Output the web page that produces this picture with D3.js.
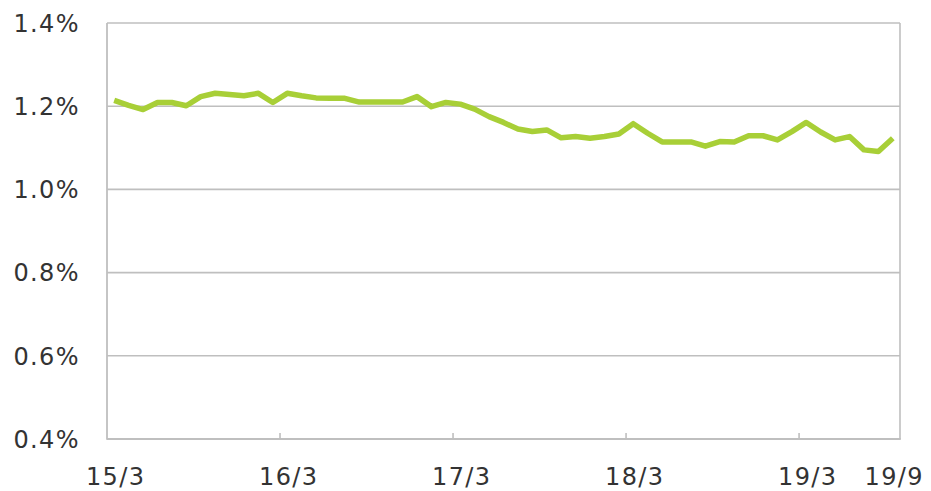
<!DOCTYPE html>
<html>
<head>
<meta charset="utf-8">
<script src="https://cdn.jsdelivr.net/npm/d3@7"></script>
<style>
  html, body { margin: 0; padding: 0; background: #fff; }
  svg { display: block; }
  text { font-family: "DejaVu Sans", Verdana, sans-serif; fill: #333; }
</style>
</head>
<body>
<svg id="chart" width="931" height="491"></svg>
<script>
const months = (() => {
  const out = [];
  for (let yy = 15; yy <= 19; yy++) {
    for (let m = 1; m <= 12; m++) {
      if (yy === 15 && m < 3) continue;
      if (yy === 19 && m > 9) continue;
      out.push(yy + "/" + m);
    }
  }
  return out;
})();

const values = [
  1.214, 1.202, 1.192, 1.209, 1.209, 1.201, 1.223, 1.231, 1.228, 1.225, 1.231, 1.209,
  1.231, 1.225, 1.220, 1.219, 1.219, 1.210, 1.210, 1.210, 1.210, 1.223, 1.199, 1.209,
  1.205, 1.193, 1.175, 1.161, 1.145, 1.139, 1.143, 1.124, 1.127, 1.123, 1.127, 1.133,
  1.158, 1.135, 1.114, 1.114, 1.114, 1.104, 1.115, 1.114, 1.129, 1.129, 1.119, 1.139,
  1.161, 1.138, 1.119, 1.127, 1.095, 1.091, 1.123
];

const yTicks = [0.4, 0.6, 0.8, 1.0, 1.2, 1.4];
const xLabels = ["15/3", "16/3", "17/3", "18/3", "19/3", "19/9"];
const xTickMarks = ["16/3", "17/3", "18/3", "19/3"];

const mLeft = 107, mRight = 900, mTop = 23, mBottom = 439;
const svg = d3.select("#chart");

const x = d3.scaleBand().domain(months).range([mLeft, mRight]).padding(0);
const y = d3.scaleLinear().domain([0.4, 1.4]).range([mBottom, mTop]);
const cx = d => x(d) + x.bandwidth() / 2;

const gridColor = "#bfbfbf";

// gridlines
svg.append("g").selectAll("line").data(yTicks.filter(t => t > 0.4)).join("line")
  .attr("x1", mLeft).attr("x2", mRight)
  .attr("y1", d => y(d)).attr("y2", d => y(d))
  .attr("stroke", gridColor).attr("stroke-width", 1.6);

// right border
svg.append("line").attr("x1", mRight).attr("x2", mRight).attr("y1", mTop).attr("y2", mBottom)
  .attr("stroke", gridColor).attr("stroke-width", 1.6);
// left axis
svg.append("line").attr("x1", mLeft).attr("x2", mLeft).attr("y1", mTop).attr("y2", mBottom + 0.8)
  .attr("stroke", gridColor).attr("stroke-width", 1.8);
// bottom axis
svg.append("line").attr("x1", mLeft).attr("x2", mRight + 0.8).attr("y1", mBottom).attr("y2", mBottom)
  .attr("stroke", gridColor).attr("stroke-width", 1.8);

// tick marks (category boundaries)
svg.append("g").selectAll("line").data(xTickMarks).join("line")
  .attr("x1", d => x(d)).attr("x2", d => x(d))
  .attr("y1", mBottom - 6).attr("y2", mBottom)
  .attr("stroke", gridColor).attr("stroke-width", 1.6);

// y labels
svg.append("g").selectAll("text").data(yTicks).join("text")
  .attr("x", 80).attr("y", d => y(d) + 8.7)
  .attr("text-anchor", "end")
  .style("font-size", "24px").style("letter-spacing", "1.4px")
  .text(d => d.toFixed(1) + "%");

// x labels
svg.append("g").selectAll("text").data(xLabels).join("text")
  .attr("x", d => cx(d) + 1.5).attr("y", 485)
  .attr("text-anchor", "middle")
  .style("font-size", "24px").style("letter-spacing", "1.4px")
  .text(d => d);

// line
const line = d3.line().x((d, i) => cx(months[i])).y(d => y(d));
svg.append("path").datum(values)
  .attr("d", line)
  .attr("fill", "none")
  .attr("stroke", "#a8cf37")
  .attr("stroke-width", 5.5)
  .attr("stroke-linejoin", "round")
  .attr("stroke-linecap", "butt");
</script>
</body>
</html>
